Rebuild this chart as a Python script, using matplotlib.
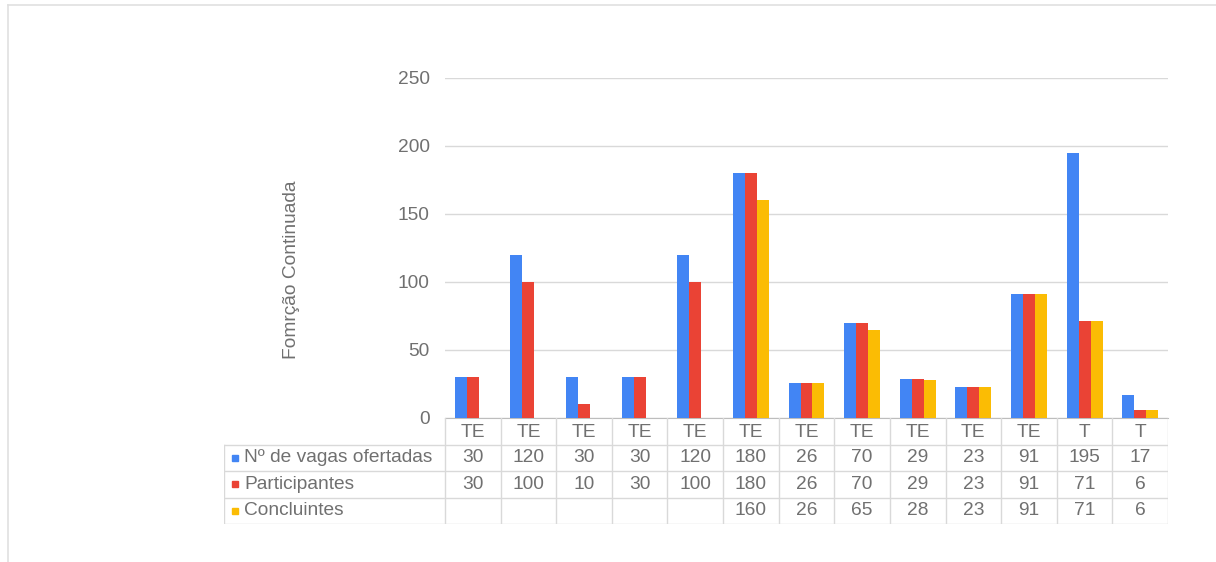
import numpy as np
import matplotlib.pyplot as plt
from matplotlib.lines import Line2D

plt.rcParams['font.family'] = ['Liberation Sans', 'DejaVu Sans']

# --- Data ---
categories = ['TE', 'TE', 'TE', 'TE', 'TE', 'TE', 'TE', 'TE', 'TE', 'TE', 'TE', 'T', 'T']
series_names = ['Nº de vagas ofertadas', 'Participantes', 'Concluintes']
vagas = [30, 120, 30, 30, 120, 180, 26, 70, 29, 23, 91, 195, 17]
participantes = [30, 100, 10, 30, 100, 180, 26, 70, 29, 23, 91, 71, 6]
concluintes = [None, None, None, None, None, 160, 26, 65, 28, 23, 91, 71, 6]
colors = ['#4285F4', '#EA4335', '#FBBC04']

# --- Layout (pixels) ---
W, H = 1216, 562
plot_left, plot_right = 445, 1168
plot_top, plot_bottom = 78, 418
table_left, table_bottom = 224, 524
text_color = '#707070'
line_color = '#d9d9d9'
fs = 13.8

fig = plt.figure(figsize=(W / 100, H / 100), dpi=100)

# outer frame
fig.add_artist(Line2D([8 / W, 1], [1 - 5 / H, 1 - 5 / H], color='#e0e0e0', lw=1.2))
fig.add_artist(Line2D([8 / W, 8 / W], [0, 1 - 5 / H], color='#e0e0e0', lw=1.2))

ax = fig.add_axes([plot_left / W, 1 - plot_bottom / H,
                   (plot_right - plot_left) / W, (plot_bottom - plot_top) / H])

n = len(categories)
x = np.arange(n)
bw = 0.215
for k, vals in enumerate([vagas, participantes, concluintes]):
    xs = [xi + (k - 1) * bw for xi, v in zip(x, vals) if v is not None]
    hs = [v for v in vals if v is not None]
    ax.bar(xs, hs, width=bw, color=colors[k], zorder=3)

ax.set_xlim(-0.5, n - 0.5)
ax.set_ylim(0, 250)
ax.set_yticks([0, 50, 100, 150, 200, 250])
ax.set_xticks([])
ax.tick_params(axis='y', length=0, pad=11, labelsize=fs, labelcolor=text_color)
ax.yaxis.grid(True, color=line_color, lw=1, zorder=0)
for s in ['top', 'right', 'left']:
    ax.spines[s].set_visible(False)
ax.spines['bottom'].set_color('#bdbdbd')

fig.text(292 / W, 1 - 270 / H, 'Fomrção Continuada', rotation=90,
         ha='center', va='center', fontsize=fs, color=text_color)

# --- Data table below the axis ---
tab = fig.add_axes([table_left / W, 1 - table_bottom / H,
                    (plot_right - table_left) / W, (table_bottom - plot_bottom) / H])
units_per_px = n / (plot_right - plot_left)
x_start = -0.5 - (plot_left - table_left) * units_per_px
tab.set_xlim(x_start, n - 0.5)
tab.set_ylim(4, 0)
tab.axis('off')

for c in range(n + 1):
    tab.plot([c - 0.5, c - 0.5], [0, 4], color=line_color, lw=1)
tab.plot([x_start, x_start], [1, 4], color=line_color, lw=1)
for r in range(1, 5):
    tab.plot([x_start, n - 0.5], [r, r], color=line_color, lw=1)

for i, cat in enumerate(categories):
    tab.text(i, 0.55, cat, ha='center', va='center', fontsize=fs, color=text_color)

label_x = x_start + 20 * units_per_px
for r, (name, vals) in enumerate(zip(series_names, [vagas, participantes, concluintes]), start=1):
    tab.plot([x_start + 11 * units_per_px], [r + 0.5], marker='s', ms=5,
             color=colors[r - 1], clip_on=False)
    tab.text(label_x, r + 0.5, name, ha='left', va='center', fontsize=fs, color=text_color)
    for i, v in enumerate(vals):
        if v is not None:
            tab.text(i, r + 0.5, str(v), ha='center', va='center', fontsize=fs, color=text_color)

fig.savefig('out.png', dpi=100, facecolor='white')
